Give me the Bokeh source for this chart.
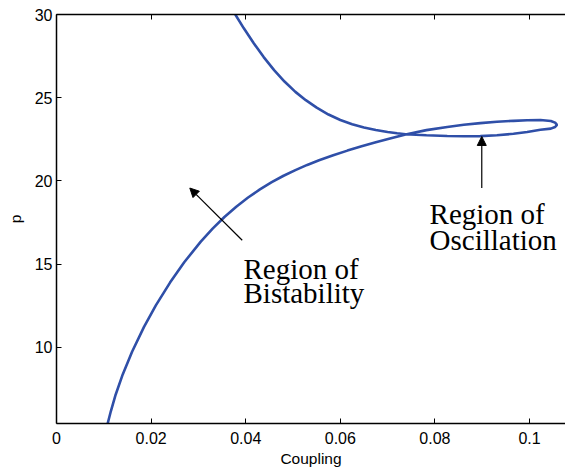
from bokeh.plotting import figure
from bokeh.models import (Range1d, LinearAxis, FixedTicker, Label, Arrow, NormalHead,
                          Title, CustomJSTickFormatter)
from bokeh.embed import file_html
from bokeh.resources import INLINE

# Curve, in order along the curve
# (lower branch up to the loop, around its tip, then the upper branch up to the top)
coupling = [0.0108, 0.0115, 0.0125, 0.0140, 0.0160, 0.0185, 0.0210, 0.0240, 0.0270,
            0.0305, 0.0330, 0.0355, 0.0380, 0.0405, 0.0430, 0.0455, 0.0480, 0.0505,
            0.0530, 0.0555, 0.0585, 0.0615, 0.0645, 0.0675, 0.0705, 0.0738,
            0.0782, 0.0826, 0.0861, 0.0896, 0.0931, 0.0966, 0.0995, 0.1023, 0.1045,
            0.1054, 0.1058, 0.1054, 0.1045, 0.1023, 0.0995, 0.0966, 0.0931, 0.0896,
            0.0861, 0.0826, 0.0782, 0.0738, 0.0720, 0.0700, 0.0675, 0.0650, 0.0625,
            0.0600, 0.0575, 0.0550, 0.0527, 0.0505, 0.0482, 0.0460, 0.0438, 0.0417,
            0.0396, 0.0378]
p_vals = [5.40, 6.17, 7.15, 8.37, 9.75, 11.23, 12.52, 13.89, 15.11,
          16.35, 17.13, 17.83, 18.45, 19.00, 19.49, 19.92, 20.31, 20.65,
          20.96, 21.24, 21.54, 21.82, 22.08, 22.32, 22.55, 22.79,
          23.05, 23.24, 23.37, 23.47, 23.55, 23.61, 23.645, 23.655, 23.60,
          23.50, 23.37, 23.24, 23.14, 23.07, 22.94, 22.83, 22.74, 22.69,
          22.68, 22.70, 22.74, 22.80, 22.86, 22.935, 23.055, 23.21, 23.41,
          23.66, 23.99, 24.40, 24.85, 25.35, 25.97, 26.66, 27.44, 28.27,
          29.17, 30.00]

x_ticks = [0, 0.02, 0.04, 0.06, 0.08, 0.1]
x_tick_labels = ["0", "0.02", "0.04", "0.06", "0.08", "0.1"]
y_ticks = [10, 15, 20, 25, 30]

FONT = "Liberation Sans"
SERIF = "Liberation Serif"

p = figure(width=565, height=467, output_backend="svg", toolbar_location=None,
           x_range=Range1d(0, 0.1076), y_range=Range1d(5.42, 30),
           min_border_left=56, min_border_right=0, min_border_top=14, min_border_bottom=0)
p.outline_line_color = None
p.grid.visible = False
p.background_fill_color = "white"
p.border_fill_color = "white"

p.line(coupling, p_vals, line_color="#2f4fa8", line_width=2.6)

xa = p.xaxis[0]
xa.ticker = FixedTicker(ticks=x_ticks)
xa.major_label_overrides = {t: s for t, s in zip(x_ticks, x_tick_labels)}
ya = p.yaxis[0]
ya.ticker = FixedTicker(ticks=y_ticks)
ya.axis_label = "p"

for ax in (xa, ya):
    ax.major_tick_in = 5
    ax.major_tick_out = 0
    ax.minor_tick_line_color = None
    ax.axis_line_color = "black"
    ax.axis_line_width = 1.5
    ax.major_tick_line_color = "black"
    ax.major_tick_line_width = 1
    ax.major_label_text_font = FONT
    ax.major_label_text_font_size = "16px"
    ax.major_label_text_color = "black"
    ax.axis_label_text_font = FONT
    ax.axis_label_text_font_size = "15.5px"
    ax.axis_label_text_font_style = "normal"
    ax.axis_label_text_color = "black"
ya.major_label_standoff = 4
xa.major_label_standoff = 8
ya.axis_label_standoff = 8

top = LinearAxis(ticker=FixedTicker(ticks=x_ticks), major_tick_in=5, major_tick_out=0,
                 minor_tick_line_color=None, axis_line_width=1.5,
                 formatter=CustomJSTickFormatter(code="return ''"),
                 major_label_standoff=0)
p.add_layout(top, "above")

# x-axis title (centred under 0 .. 0.1 as in the reference)
p.add_layout(Title(text="Coupling", align="center", offset=-18, text_font=FONT,
                   text_font_size="15.5px", text_font_style="normal", text_color="black",
                   standoff=2), "below")

# annotations
for x0, y0, txt in [(0.03953, 14.73, "Region of"), (0.03953, 13.26, "Bistability"),
                    (0.07886, 18.03, "Region of"), (0.07886, 16.47, "Oscillation")]:
    p.add_layout(Label(x=x0, y=y0, text=txt, text_font=SERIF, text_font_size="29px",
                       text_align="left", text_baseline="alphabetic", text_color="black"))

p.add_layout(Arrow(x_start=0.03926, y_start=16.43, x_end=0.02818, y_end=19.57,
                   line_color="black", line_width=1.2,
                   end=NormalHead(size=9, fill_color="black", line_color="black")))
p.add_layout(Arrow(x_start=0.0899, y_start=19.57, x_end=0.0899, y_end=22.67,
                   line_color="black", line_width=1.2,
                   end=NormalHead(size=9, fill_color="black", line_color="black")))

open("out.html", "w").write(file_html(p, INLINE))
